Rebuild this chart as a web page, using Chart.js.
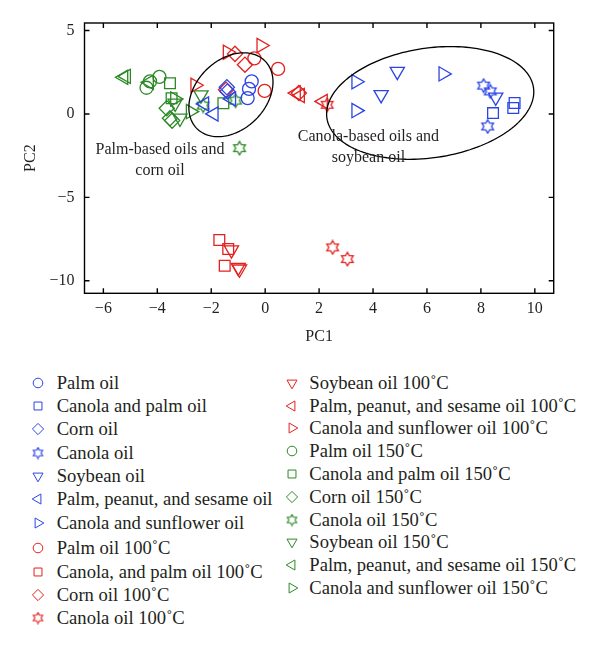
<!DOCTYPE html>
<html>
<head>
<meta charset="utf-8">
<script src="https://cdn.jsdelivr.net/npm/chart.js@4.4.0/dist/chart.umd.min.js"></script>
<style>
body { margin: 0; background: #fff; width: 600px; height: 651px; position: relative; overflow: hidden; font-family: 'Liberation Serif', serif; }
#wrap { position: absolute; left: 0; top: 0; width: 600px; height: 350px; }
#legend .mk { position: absolute; width: 16px; height: 16px; }
#legend .tx { position: absolute; height: 20px; line-height: 20px; font-size: 18.6px; color: #231f20; white-space: nowrap; }
</style>
</head>
<body>
<div id="wrap"><canvas id="pca" width="600" height="350"></canvas></div>
<div id="legend"></div>
<script>
const seriesNames = [
    'Palm oil', 'Canola and palm oil', 'Corn oil', 'Canola oil', 'Soybean oil',
    'Palm, peanut, and sesame oil', 'Canola and sunflower oil',
    'Palm oil 100\u02DAC', 'Canola, and palm oil 100\u02DAC', 'Corn oil 100\u02DAC', 'Canola oil 100\u02DAC',
    'Soybean oil 100\u02DAC', 'Palm, peanut, and sesame oil 100\u02DAC', 'Canola and sunflower oil 100\u02DAC',
    'Palm oil 150\u02DAC', 'Canola and palm oil 150\u02DAC', 'Corn oil 150\u02DAC', 'Canola oil 150\u02DAC',
    'Soybean oil 150\u02DAC', 'Palm, peanut, and sesame oil 150\u02DAC', 'Canola and sunflower oil 150\u02DAC'
];

// PC1 scores, one list per series
const seriesX = [
    [-0.5, -0.6, -0.65],
    [8.45, 9.2, 9.25],
    [-1.42, -1.4],
    [8.1, 8.35, 8.25],
    [4.9, 4.3, 8.55],
    [-2.25, -1.9, -1.25],
    [3.37, 3.37, 6.6],
    [-0.4, 0.48, -0.02],
    [-1.7, -1.37, -1.5],
    [-1.12, -0.75, -1.45, 1.25],
    [2.3, 2.5, 3.05],
    [-1.25, -0.95, -1.0],
    [1.15, 1.3, 2.15],
    [-0.15, -1.4, -2.6],
    [-4.4, -4.27, -3.92],
    [-3.53, -3.47, -1.55],
    [-3.65, -3.53, -3.45],
    [-0.95, -2.3, -1.1],
    [-3.16, -2.38, -3.34],
    [-5.25, -5.15, -4.3],
    [-2.77, -3.35]
];

// PC2 scores, one list per series
const seriesY = [
    [1.95, 1.5, 0.95],
    [0.05, 0.35, 0.65],
    [1.6, 1.35],
    [1.7, 1.35, -0.75],
    [2.55, 1.15, 1.0],
    [0.6, 0.0, 0.9],
    [1.93, 0.2, 2.4],
    [3.33, 2.7, 1.38],
    [-7.55, -8.1, -9.1],
    [3.6, 2.95, 1.45, 1.25],
    [0.55, -8.0, -8.7],
    [-8.15, -9.3, -9.2],
    [1.25, 1.1, 0.75],
    [4.1, 3.7, 1.72],
    [1.57, 1.95, 2.22],
    [1.84, 0.94, 0.64],
    [0.34, -0.26, -0.4],
    [-2.05, 0.5, 0.8],
    [-0.26, 1.14, 0.64],
    [2.2, 2.25, 1.9],
    [0.14, 0.9]
];

const xTicks = [-6, -4, -2, 0, 2, 4, 6, 8, 10];
const yTicks = [-10, -5, 0, 5];

// cluster ellipses: centre and two conjugate half axes, in PC units
const ellipseCX = [-1.27, 6.12];
const ellipseCY = [1.15, 0.66];
const ellipseU = [[1.26, 2.03], [3.83, 0.92]];
const ellipseV = [[0.92, -1.48], [0.30, -3.25]];

const noteLines = ['Palm-based oils and', 'corn oil', 'Canola-based oils and', 'soybean oil'];
const noteX = [-3.9, -3.9, 3.83, 3.83];
const noteY = [-2.12, -3.38, -1.38, -2.6];

const groupColors = ['#2a45e4', '#e4211f', '#2b8a26'];
const FONT = "'Liberation Serif', 'Times New Roman', serif";

function makeStar(color, size, lw) {
    const c = document.createElement('canvas');
    c.width = size; c.height = size;
    const g = c.getContext('2d');
    const R = size / 2 - lw, r = R / Math.sqrt(3);
    g.strokeStyle = color;
    g.lineWidth = lw;
    g.beginPath();
    for (let k = 0; k < 12; k++) {
        const rad = k * Math.PI / 6;
        const rr = k % 2 === 0 ? R : r;
        const px = size / 2 + Math.sin(rad) * rr;
        const py = size / 2 - Math.cos(rad) * rr;
        if (k === 0) g.moveTo(px, py); else g.lineTo(px, py);
    }
    g.closePath();
    g.stroke();
    return c;
}

function markerFor(i, small) {
    const color = groupColors[Math.floor(i / 7)];
    const kind = i % 7;
    const styles = ['circle', 'rect', 'rectRot', null, 'triangle', 'triangle', 'triangle'];
    const rotations = [0, 0, 0, 0, 180, 270, 90];
    const radii = small ? [4.8, 5.6, 5.6, 5, 5.8, 5.8, 5.8] : [6.5, 7.6, 7.6, 7, 8.2, 8.2, 8.2];
    let style = styles[kind];
    if (kind === 3) style = small ? makeStar(color, 13, 1.1) : makeStar(color, 16, 1.3);
    return { color: color, style: style, rotation: rotations[kind], radius: radii[kind] };
}

const datasets = [];
for (let i = 0; i < seriesNames.length; i++) {
    const m = markerFor(i, false);
    const pts = [];
    for (let j = 0; j < seriesX[i].length; j++) {
        pts.push({ x: seriesX[i][j], y: seriesY[i][j] });
    }
    datasets.push({
        label: seriesNames[i],
        data: pts,
        pointStyle: m.style,
        pointRotation: m.rotation,
        pointRadius: m.radius,
        pointBorderWidth: 1.3,
        borderColor: m.color,
        backgroundColor: 'rgba(0,0,0,0)',
        pointBackgroundColor: 'rgba(0,0,0,0)',
        pointBorderColor: m.color
    });
}

const framePlugin = {
    id: 'frame',
    afterDatasetsDraw(chart) {
        const ctx = chart.ctx;
        const a = chart.chartArea;
        const xs = chart.scales.x, ys = chart.scales.y;
        ctx.save();
        ctx.strokeStyle = '#000';
        ctx.lineWidth = 1.3;

        for (let e = 0; e < ellipseCX.length; e++) {
            ctx.beginPath();
            for (let k = 0; k <= 160; k++) {
                const t = k / 160 * Math.PI * 2;
                const dx = ellipseCX[e] + ellipseU[e][0] * Math.cos(t) + ellipseV[e][0] * Math.sin(t);
                const dy = ellipseCY[e] + ellipseU[e][1] * Math.cos(t) + ellipseV[e][1] * Math.sin(t);
                const px = xs.getPixelForValue(dx), py = ys.getPixelForValue(dy);
                if (k === 0) ctx.moveTo(px, py); else ctx.lineTo(px, py);
            }
            ctx.stroke();
        }

        ctx.fillStyle = '#231f20';
        ctx.font = '16px ' + FONT;
        ctx.textAlign = 'center';
        ctx.textBaseline = 'middle';
        for (let n = 0; n < noteLines.length; n++) {
            ctx.fillText(noteLines[n], xs.getPixelForValue(noteX[n]), ys.getPixelForValue(noteY[n]));
        }

        ctx.lineWidth = 1.4;
        ctx.strokeRect(a.left, a.top, a.right - a.left, a.bottom - a.top);
        ctx.beginPath();
        xTicks.forEach(function(v) {
            const px = xs.getPixelForValue(v);
            ctx.moveTo(px, a.bottom); ctx.lineTo(px, a.bottom - 5);
            ctx.moveTo(px, a.top); ctx.lineTo(px, a.top + 5);
        });
        yTicks.forEach(function(v) {
            const py = ys.getPixelForValue(v);
            ctx.moveTo(a.left, py); ctx.lineTo(a.left + 5, py);
            ctx.moveTo(a.right, py); ctx.lineTo(a.right - 5, py);
        });
        ctx.stroke();
        ctx.restore();
    }
};

function minusLabel(v) {
    return v < 0 ? '\u2212' + Math.abs(v) : String(v);
}

new Chart(document.getElementById('pca'), {
    type: 'scatter',
    data: { datasets: datasets },
    options: {
        responsive: false,
        animation: false,
        layout: { padding: { left: 0, top: 23, right: 46.3, bottom: 0 } },
        plugins: { legend: { display: false }, tooltip: { enabled: false } },
        scales: {
            x: {
                type: 'linear',
                min: -6.7,
                max: 10.7,
                afterBuildTicks: function(scale) { scale.ticks = xTicks.map(function(v) { return { value: v }; }); },
                afterFit: function(scale) { scale.height = 56.7; },
                grid: { display: false, drawTicks: false },
                border: { display: false },
                ticks: { padding: 6, color: '#231f20', font: { family: FONT, size: 16 }, callback: minusLabel, maxRotation: 0 },
                title: { display: true, text: 'PC1', color: '#231f20', font: { family: FONT, size: 16 }, padding: { top: 0, bottom: 3.7 } }
            },
            y: {
                type: 'linear',
                min: -10.75,
                max: 5.45,
                afterBuildTicks: function(scale) { scale.ticks = yTicks.map(function(v) { return { value: v }; }); },
                afterFit: function(scale) { scale.width = 84.5; },
                grid: { display: false, drawTicks: false },
                border: { display: false },
                ticks: { padding: 10, color: '#231f20', font: { family: FONT, size: 16 }, callback: minusLabel },
                title: { display: true, text: 'PC2', color: '#231f20', font: { family: FONT, size: 16 }, padding: { top: 21, bottom: 0 } }
            }
        }
    },
    plugins: [framePlugin]
});

// two-column legend under the plot
const legend = document.getElementById('legend');
for (let i = 0; i < seriesNames.length; i++) {
    let mx, tx, cy;
    if (i < 11) {
        mx = 38; tx = 56.7;
        cy = 382.7 + 23.3 * i + (i >= 7 ? 2.6 : 0);
    } else {
        mx = 291.7; tx = 309.3;
        cy = 382.7 + 22.8 * (i - 11);
    }
    const m = markerFor(i, true);
    const c = document.createElement('canvas');
    c.className = 'mk';
    c.width = 16; c.height = 16;
    c.style.left = (mx - 8) + 'px';
    c.style.top = (cy - 8) + 'px';
    const g = c.getContext('2d');
    g.strokeStyle = m.color;
    g.fillStyle = 'rgba(0,0,0,0)';
    Chart.helpers.drawPoint(g, { pointStyle: m.style, rotation: m.rotation, radius: m.radius, borderWidth: 1.2 }, 8, 8);
    legend.appendChild(c);

    const t = document.createElement('div');
    t.className = 'tx';
    t.style.left = tx + 'px';
    t.style.top = (cy - 10) + 'px';
    t.textContent = seriesNames[i];
    legend.appendChild(t);
}
</script>
</body>
</html>
